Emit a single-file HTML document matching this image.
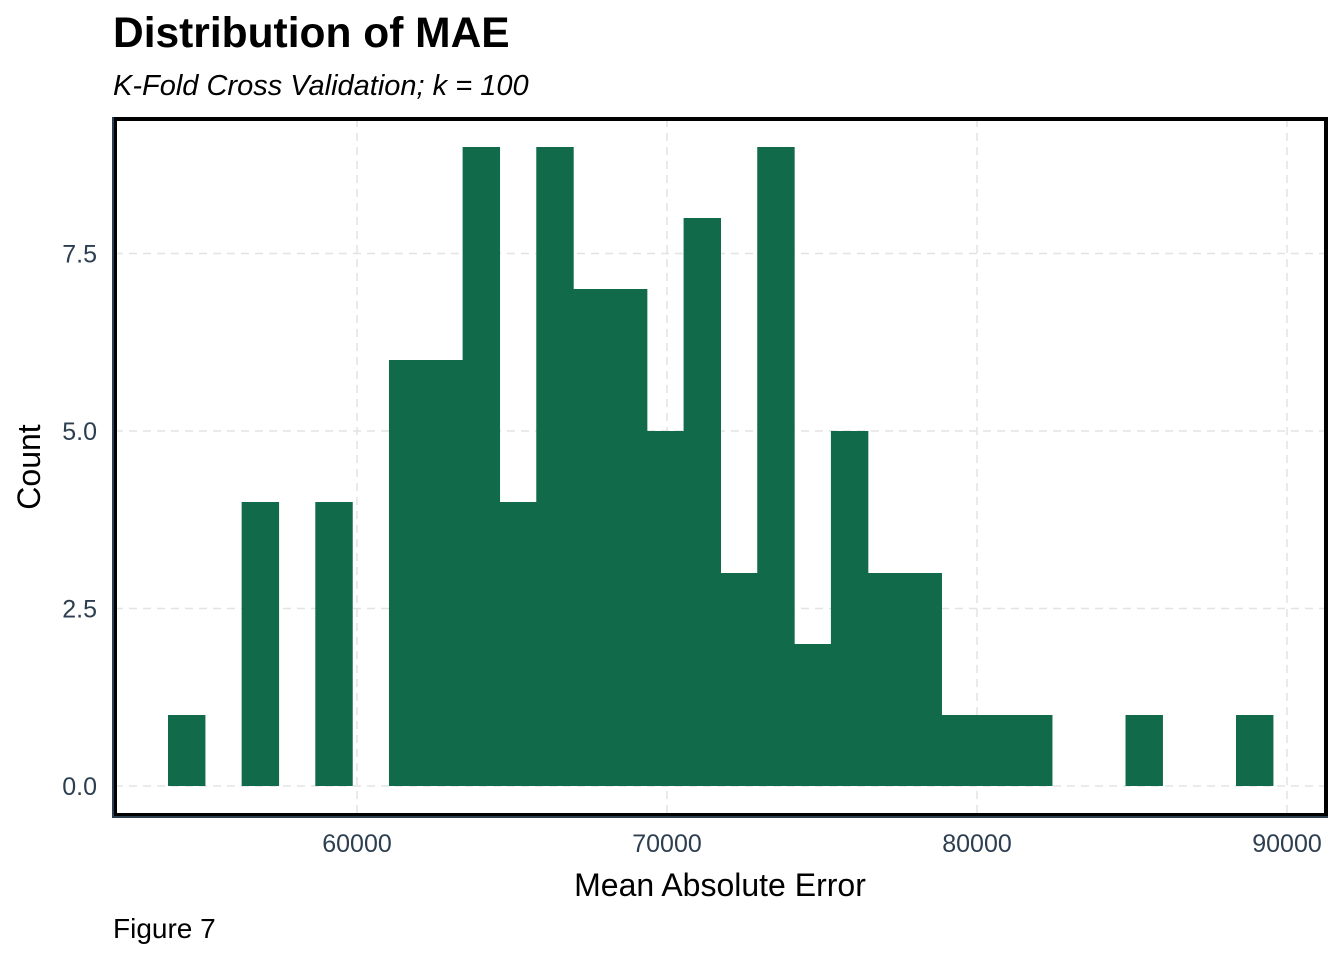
<!DOCTYPE html>
<html><head><meta charset="utf-8"><style>
body{margin:0;background:#fff;width:1344px;height:960px;overflow:hidden;font-family:"Liberation Sans",Arial,sans-serif}
</style></head><body>
<svg width="1344" height="960">
<text x="113" y="47" font-size="42.5" font-weight="bold" fill="#000">Distribution of MAE</text>
<text x="113" y="95" font-size="29" font-style="italic" fill="#000">K-Fold Cross Validation; k = 100</text>
<g id="grid"></g>
<g id="bars"></g>
<rect x="115" y="119" width="1211" height="696" fill="none" stroke="#000" stroke-width="4"/>
<line x1="113" y1="117" x2="113" y2="818" stroke="#2c3e50" stroke-width="2"/>
<line x1="113" y1="817" x2="1328" y2="817" stroke="#2c3e50" stroke-width="2"/>
<g id="ticks"></g>
<text x="720" y="896" font-size="32" text-anchor="middle">Mean Absolute Error</text>
<text transform="translate(40,467) rotate(-90)" font-size="32" text-anchor="middle">Count</text>
<text x="113" y="938" font-size="28">Figure 7</text>
</svg>
<script>
const binStart = 53903;
const binWidth = 1188;
const counts = [1,0,4,0,4,0,6,6,9,4,9,7,7,5,8,3,9,2,5,3,3,1,1,1,0,0,1,0,0,1];
const xTicks = [60000,70000,80000,90000];
const yTicks = [0,2.5,5,7.5];
const yTickLabels = ["0.0","2.5","5.0","7.5"];
const X = v => 357 + (v - 60000) * 0.031;
const Y = v => 786 - v * 71;
const NS = "http://www.w3.org/2000/svg";
const grid = document.getElementById('grid'), bars = document.getElementById('bars'), ticks = document.getElementById('ticks');
function mk(tag, attrs, parent){const e=document.createElementNS(NS,tag);for(const k in attrs)e.setAttribute(k,attrs[k]);parent.appendChild(e);return e;}
xTicks.forEach(t=>{
  const l=mk('line',{x1:X(t),x2:X(t),y1:119,y2:815,stroke:'#e3e3e3','stroke-width':1.5,'stroke-dasharray':'8,6'},grid);
  
  
  const tx=mk('text',{x:X(t),y:852,'font-size':25,'text-anchor':'middle',fill:'#2c3e50'},ticks);
  tx.textContent=t;
  
  
});
yTicks.forEach((t,i)=>{
  const l=mk('line',{x1:115,x2:1326,y1:Y(t),y2:Y(t),stroke:'#e3e3e3','stroke-width':1.5,'stroke-dasharray':'8,6'},grid);
  
  
  const tx=mk('text',{x:97,y:Y(t)+9,'font-size':25,'text-anchor':'end',fill:'#2c3e50'},ticks);
  tx.textContent=yTickLabels[i];
  
  
});
counts.forEach((c,i)=>{
  if(!c)return;
  const x0=X(binStart+i*binWidth), x1=X(binStart+(i+1)*binWidth);
  const r=mk('rect',{x:x0,y:Y(c),width:x1-x0+0.6,height:Y(0)-Y(c),fill:'#116b4a'},bars);
  
  
});
</script>
</body></html>
